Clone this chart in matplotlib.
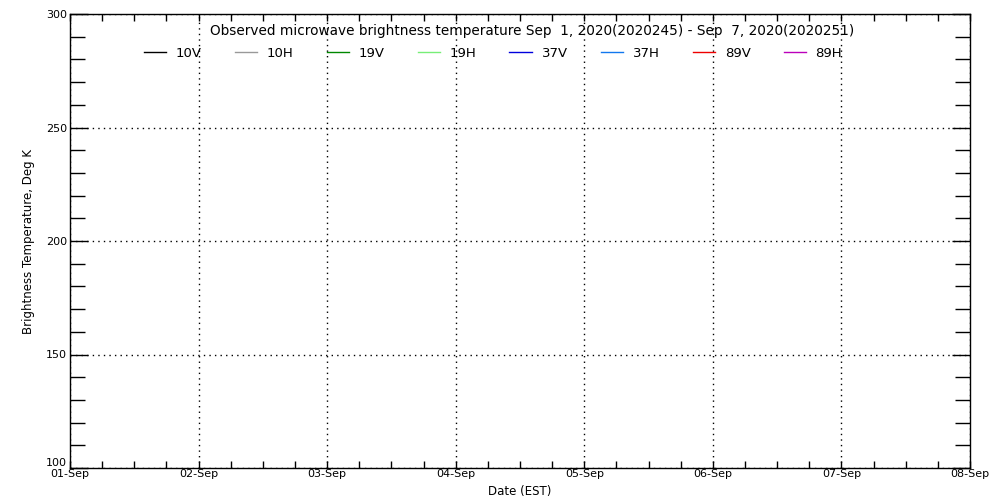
import datetime as dt
import matplotlib
matplotlib.use("Agg")
import matplotlib.pyplot as plt
import matplotlib.dates as mdates
from matplotlib.ticker import MultipleLocator, FixedLocator

# ── data ──────────────────────────────────────────────────────────────
channels = ["10V", "10H", "19V", "19H", "37V", "37H", "89V", "89H"]
colors = ["#000000", "#999999", "#008800", "#77ee77",
          "#0000dd", "#1177ee", "#ee0000", "#bb00bb"]
# no observations in this period -> every series is empty
obs_times = []
obs_tb = {ch: [] for ch in channels}

start = dt.datetime(2020, 9, 1)
end = dt.datetime(2020, 9, 8)
y_major = [100, 150, 200, 250, 300]
title = ("Observed microwave brightness temperature Sep  1, 2020(2020245)"
         " - Sep  7, 2020(2020251)")

# ── figure ────────────────────────────────────────────────────────────
fig = plt.figure(figsize=(10, 5), dpi=100)
ax = fig.add_axes([0.070, 0.064, 0.900, 0.908])

for ch, c in zip(channels, colors):
    ax.plot(obs_times, obs_tb[ch], color=c, linewidth=1, label=ch)

ax.set_xlim(start, end)
ax.set_ylim(y_major[0], y_major[-1])

ax.xaxis.set_major_locator(mdates.DayLocator())
ax.xaxis.set_minor_locator(mdates.HourLocator(byhour=[6, 12, 18]))
ax.xaxis.set_major_formatter(mdates.DateFormatter("%d-%b"))
ax.yaxis.set_major_locator(FixedLocator(y_major))
ax.yaxis.set_minor_locator(MultipleLocator(10))

ax.tick_params(axis="both", which="both", direction="in",
               top=True, right=True, width=1, color="black",
               labelsize=8, pad=2)
ax.tick_params(axis="x", which="both", length=5, pad=1)
ax.tick_params(axis="y", which="major", length=13)
ax.tick_params(axis="y", which="minor", length=10.5)
# bottom label sits on the axis line like the original
ax.yaxis.get_major_ticks()[0].label1.set_va("bottom")

ax.grid(True, which="major", linestyle=(0, (1, 3)), color="black",
        linewidth=1)

for sp in ax.spines.values():
    sp.set_linewidth(1)

ax.text(0.513, 0.962, title, transform=ax.transAxes, ha="center",
        va="center", fontsize=9.8)

ax.legend(loc="center", bbox_to_anchor=(0.47, 0.913), ncol=8,
          frameon=False, fontsize=9.5, handlelength=1.67,
          handletextpad=0.76, columnspacing=2.5, borderaxespad=0)

ax.set_xlabel("Date (EST)", fontsize=8.5, labelpad=4)
ax.set_ylabel("Brightness Temperature, Deg K", fontsize=8.5, labelpad=8)

fig.savefig("out.png", dpi=100)
